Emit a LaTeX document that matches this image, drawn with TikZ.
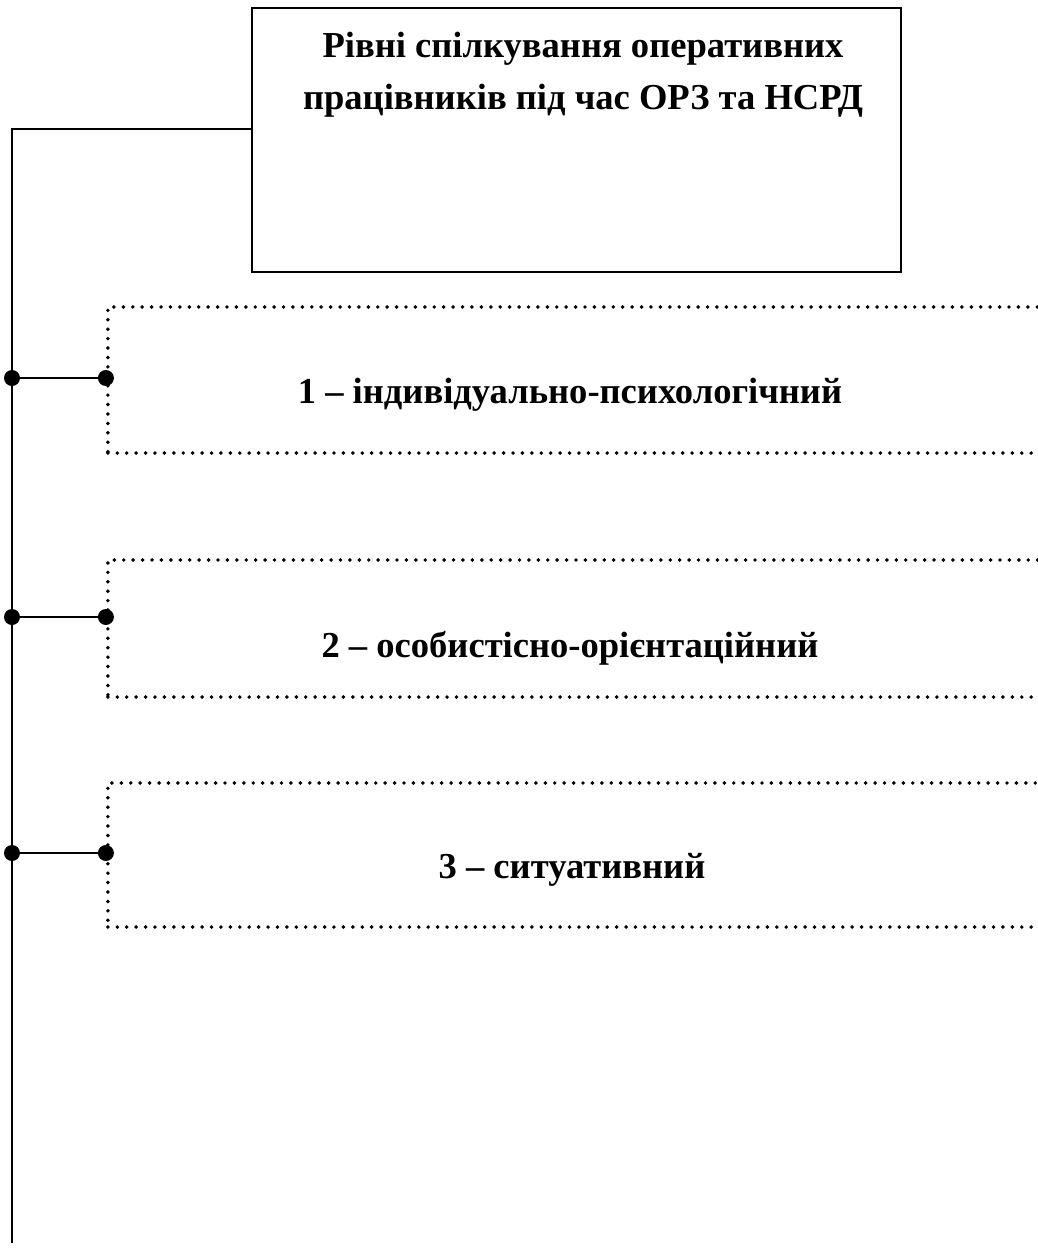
\documentclass[tikz,border=0pt]{standalone}
\usepackage{fontspec}
\setmainfont{Liberation Serif}
\usetikzlibrary{positioning}
\begin{document}
\begin{tikzpicture}[
    x=0.025cm, y=-0.025cm,
    line width=1.4pt,
    titlebox/.style={rectangle, draw, minimum width=16.225cm, minimum height=6.6cm},
    titletext/.style={font=\fontsize{26}{37}\selectfont\bfseries, align=center, inner sep=0pt},
    levelbox/.style={rectangle, draw, line width=2.8pt, line cap=round,
        dash pattern=on 0pt off 6.7pt, minimum width=23.8cm},
    leveltext/.style={font=\fontsize{26}{30}\selectfont\bfseries, anchor=base},
    joint/.style={circle, fill, inner sep=0pt, minimum size=0.4cm}
]
    \useasboundingbox (0,0) rectangle (1038,1252);

    % heading
    \node[titlebox] (title) at (576.5,140) {};
    \node[titletext, anchor=north] (titlelbl) at (583,31)
        {Рівні спілкування оперативних\\працівників під час ОРЗ та НСРД};

    % levels
    \node[levelbox, minimum height=3.65cm] (lvl1) at (584,380) {};
    \node[levelbox, minimum height=3.425cm] (lvl2) at (584,628.5) {};
    \node[levelbox, minimum height=3.6cm] (lvl3) at (584,855) {};
    \node[leveltext] (txt1) at (570,403) {1 – індивідуально-психологічний};
    \node[leveltext] (txt2) at (570,657) {2 – особистісно-орієнтаційний};
    \node[leveltext] (txt3) at (572,878) {3 – ситуативний};

    % spine
    \coordinate (top) at (12,129);
    \coordinate (bottom) at (12,1243);
    \draw (top -| title.west) -- (top) -- (bottom);

    \coordinate (a1) at (12,378);
    \coordinate (a2) at (12,617);
    \coordinate (a3) at (12,853);
    \coordinate (b1) at (lvl1.west |- a1);
    \coordinate (b2) at (lvl2.west |- a2);
    \coordinate (b3) at (lvl3.west |- a3);
    \foreach \i in {1,2,3} {
        \draw (a\i) -- (b\i);
        \node[joint] at (a\i) {};
        \node[joint] at (b\i) {};
    }
\end{tikzpicture}
\end{document}
